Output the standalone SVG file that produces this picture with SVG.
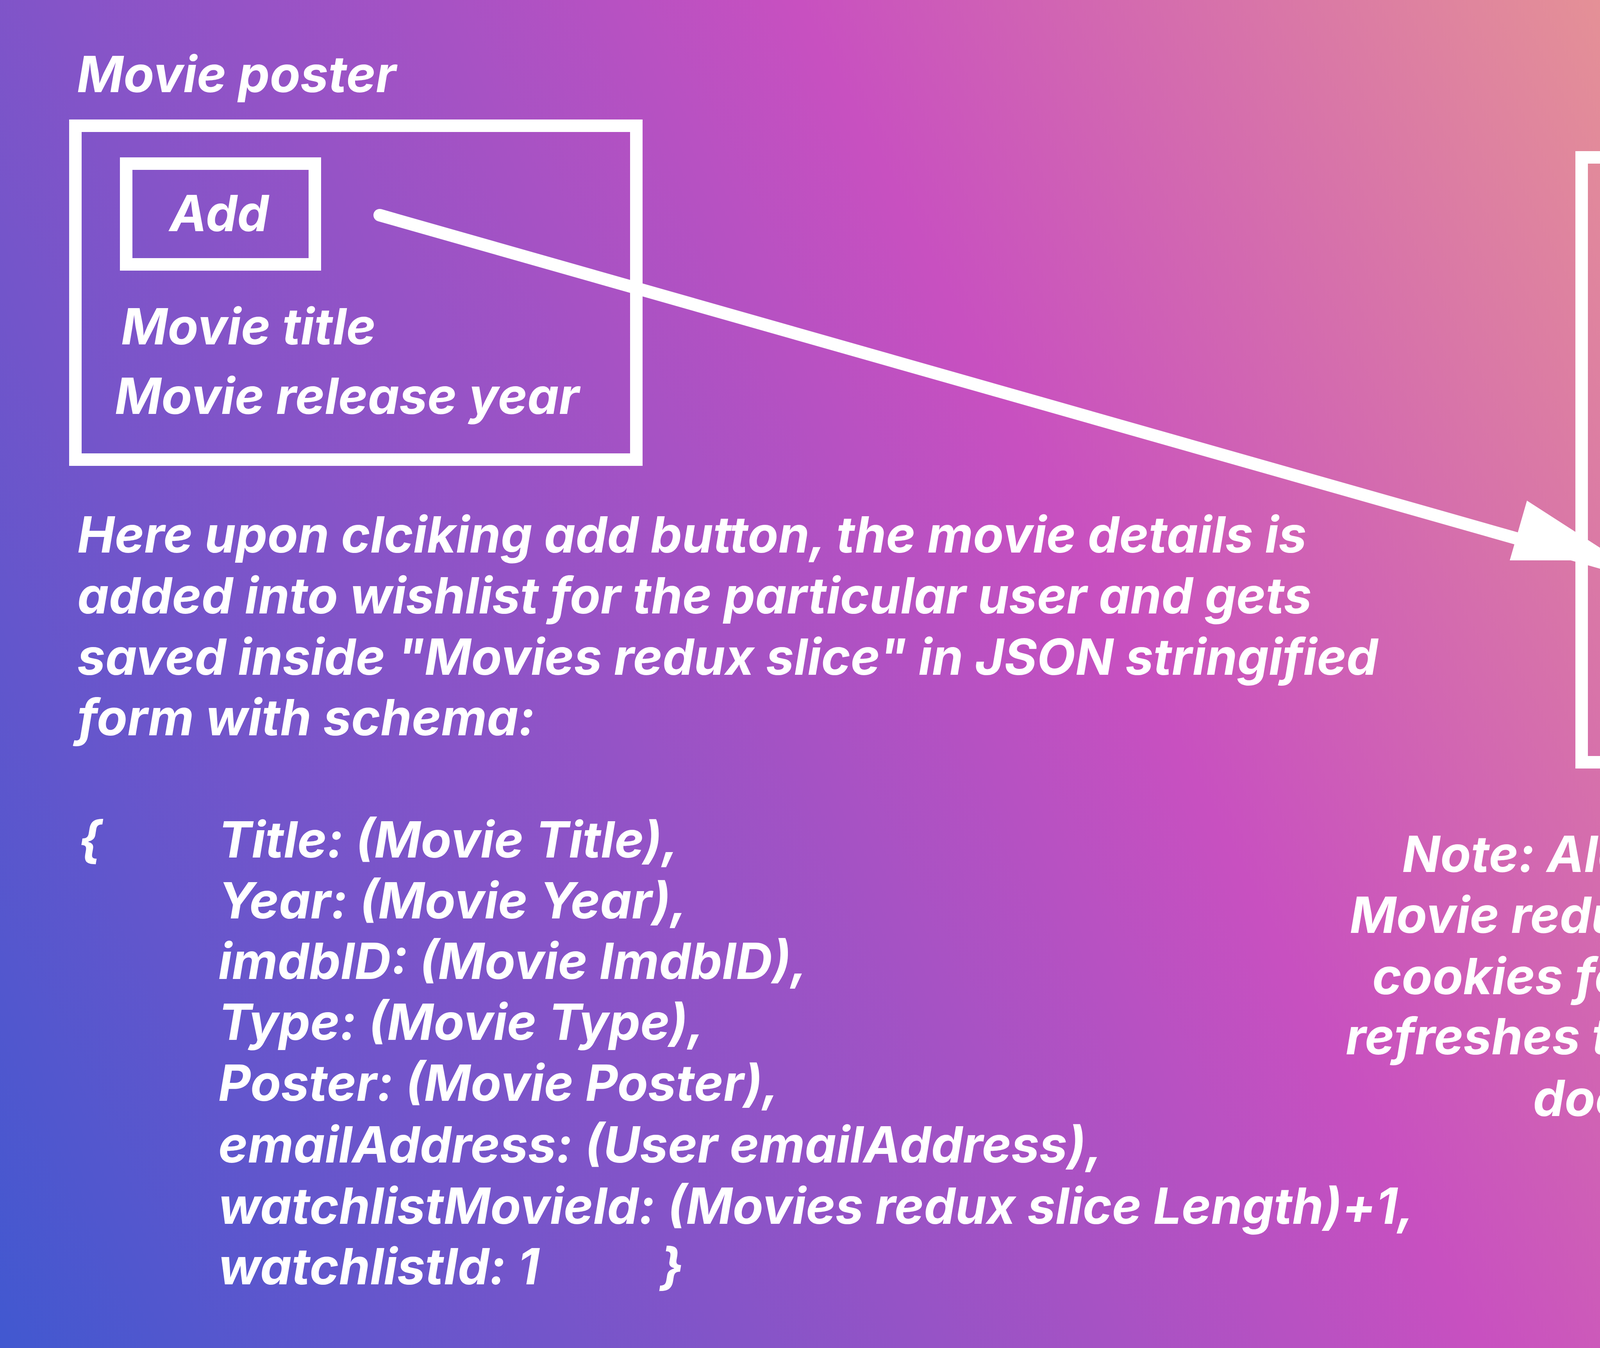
<svg xmlns="http://www.w3.org/2000/svg" width="6000" height="3452" viewBox="0 0 6000 3452">
<defs>
<linearGradient id="bg" gradientUnits="userSpaceOnUse" x1="0" y1="3452" x2="6160" y2="313">
<stop offset="0" stop-color="#4158D0"/>
<stop offset="0.49" stop-color="#C850C0"/>
<stop offset="1" stop-color="#FFCC70"/>
</linearGradient>
<style>
.t{font-family:Inter,"Liberation Sans",sans-serif;font-weight:700;font-style:italic;font-size:128px;fill:#fff}
.box{fill:none;stroke:#fff;stroke-width:32}
.conn{stroke:#fff;stroke-width:32;stroke-linecap:round;fill:none}
</style>
</defs>
<rect x="0" y="0" width="6000" height="3452" fill="url(#bg)"/>
<g id="movie-poster">
<text class="t" x="197" y="236">Movie poster</text>
<rect class="box" x="193" y="322" width="1436" height="855"/>
<g id="add-button">
<rect class="box" x="323" y="419" width="483" height="258"/>
<text class="t" x="434" y="592">Add</text>
</g>
<text class="t" x="310" y="882">Movie title</text>
<text class="t" x="294" y="1060">Movie release year</text>
</g>
<g id="redux-store">
<text class="t" x="4149" y="268">Redux store</text>
<rect class="box" x="4049" y="403" width="1774" height="1549"/>
<g id="auth-slice">
<rect class="box" x="4211" y="532" width="1467" height="307"/>
<text class="t" x="4272" y="739">Auth redux slice</text>
</g>
<g id="users-slice">
<rect class="box" x="4211" y="1001" width="1467" height="289"/>
<text class="t" x="4282" y="1191">Users redux slice</text>
</g>
<g id="movies-slice">
<rect class="box" x="4211" y="1452" width="1467" height="290"/>
<text class="t" x="4291" y="1657">Movies redux slice</text>
</g>
</g>
<g id="connectors">
<line class="conn" x1="972" y1="551" x2="4136" y2="1451"/>
<polygon points="3909,1282 3865,1435 4146,1435" fill="#fff"/>
</g>
<g id="description">
<text class="t" x="198" y="1415">Here upon clciking add button, the movie details is</text>
<text class="t" x="198" y="1571">added into wishlist for the particular user and gets</text>
<text class="t" x="198" y="1728">saved inside "Movies redux slice" in JSON stringified</text>
<text class="t" x="198" y="1883">form with schema:</text>
</g>
<g id="schema">
<text class="t" x="200" y="2196">{</text>
<text class="t" x="559" y="2196">Title: (Movie Title),</text>
<text class="t" x="559" y="2352">Year: (Movie Year),</text>
<text class="t" x="559" y="2507">imdbID: (Movie ImdbID),</text>
<text class="t" x="559" y="2663">Type: (Movie Type),</text>
<text class="t" x="559" y="2819">Poster: (Movie Poster),</text>
<text class="t" x="559" y="2977">emailAddress: (User emailAddress),</text>
<text class="t" x="559" y="3134">watchlistMovieId: (Movies redux slice Length)+1,</text>
<text class="t" x="559" y="3289">watchlistId: 1<tspan x="1690">}</tspan></text>
</g>
<g id="note">
<text class="t" text-anchor="middle" x="4628" y="2233">Note: Along with this, the copy of</text>
<text class="t" text-anchor="middle" x="4628" y="2389">Movie redux slice is also saved inside</text>
<text class="t" text-anchor="middle" x="4628" y="2546">cookies for backup, incase the user</text>
<text class="t" text-anchor="middle" x="4628" y="2700">refreshes the website, the redux store</text>
<text class="t" text-anchor="middle" x="4628" y="2858">does not gets affected</text>
</g>
<g id="credit">
<text class="t" x="4634" y="3318">By M Srittam Kumar</text>
</g>
</svg>
